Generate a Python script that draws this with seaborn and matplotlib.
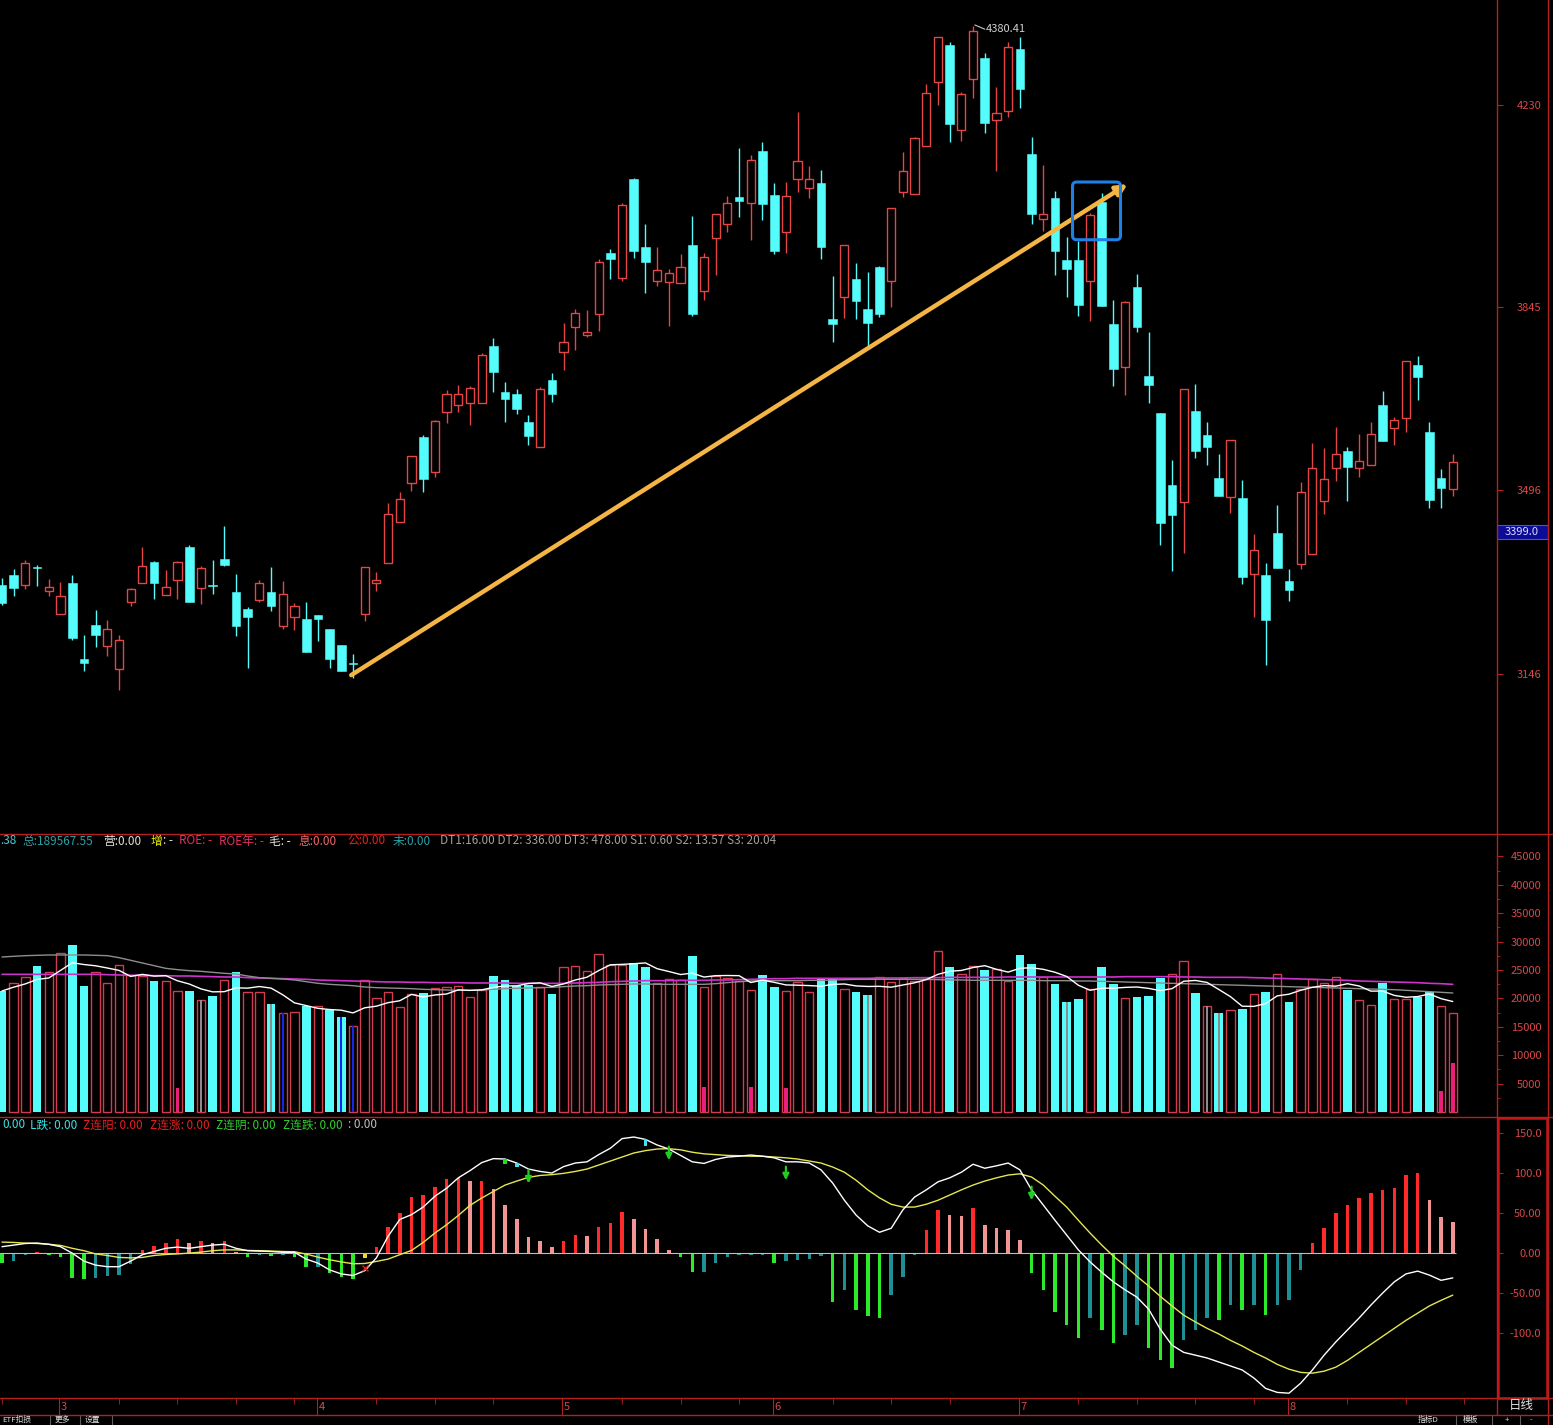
import numpy as np
import pandas as pd
import matplotlib
matplotlib.use("Agg")
import matplotlib.pyplot as plt
import seaborn as sns
from matplotlib.patches import FancyBboxPatch, Rectangle
from matplotlib.lines import Line2D

sns.set_theme(style="dark", rc={"axes.facecolor": "black", "figure.facecolor": "black",
                                "axes.grid": False})
plt.rcParams["font.family"] = ["Noto Sans CJK SC", "DejaVu Sans"]
plt.rcParams["axes.unicode_minus"] = False

# ---------------- data ----------------
opens = [3315, 3334, 3315, 3349, 3304, 3260, 3319, 3174, 3239, 3199,
         3155, 3283, 3319, 3359, 3296, 3325, 3387, 3309, 3315, 3365,
         3302, 3269, 3286, 3302, 3237, 3254, 3250, 3258, 3231, 3201,
         3166, 3260, 3319, 3357, 3435, 3509, 3597, 3530, 3645, 3658,
         3662, 3662, 3771, 3683, 3679, 3626, 3578, 3706, 3759, 3807,
         3792, 3832, 3948, 3900, 4089, 3959, 3894, 3893, 3891, 3963,
         3875, 3976, 4003, 4055, 4043, 4142, 4058, 3988, 4089, 4072,
         4081, 3822, 3864, 3898, 3841, 3921, 3894, 4064, 4060, 4152,
         4274, 4344, 4182, 4279, 4319, 4201, 4218, 4337, 4137, 4013,
         4053, 3934, 3934, 3894, 4045, 3812, 3730, 3883, 3713, 3643,
         3506, 3473, 3647, 3601, 3519, 3483, 3481, 3336, 3334, 3414,
         3323, 3355, 3374, 3475, 3538, 3570, 3538, 3544, 3658, 3614,
         3633, 3734, 3607, 3519, 3498]
highs = [3328, 3345, 3363, 3353, 3326, 3321, 3334, 3220, 3267, 3248,
         3220, 3309, 3387, 3361, 3344, 3361, 3391, 3351, 3363, 3427,
         3336, 3273, 3325, 3349, 3323, 3281, 3283, 3258, 3231, 3201,
         3183, 3349, 3340, 3471, 3492, 3561, 3601, 3629, 3687, 3696,
         3694, 3757, 3786, 3702, 3689, 3639, 3692, 3719, 3814, 3841,
         3839, 3936, 3955, 4043, 4091, 4003, 3959, 3917, 3946, 4018,
         3948, 4022, 4056, 4148, 4135, 4159, 4081, 4083, 4217, 4114,
         4106, 3904, 3963, 3929, 3912, 3923, 4034, 4140, 4169, 4270,
         4360, 4350, 4255, 4380.41, 4329, 4264, 4350, 4360, 4169, 4116,
         4066, 3978, 3971, 4024, 4062, 3858, 3856, 3908, 3797, 3643,
         3553, 3689, 3698, 3626, 3565, 3591, 3515, 3412, 3357, 3467,
         3345, 3511, 3586, 3576, 3616, 3578, 3603, 3626, 3685, 3635,
         3742, 3751, 3626, 3536, 3565]
lows = [3277, 3294, 3307, 3313, 3294, 3260, 3210, 3151, 3197, 3180,
        3115, 3275, 3319, 3288, 3296, 3288, 3283, 3279, 3298, 3351,
        3218, 3157, 3283, 3265, 3231, 3229, 3187, 3208, 3157, 3151,
        3138, 3246, 3304, 3357, 3435, 3494, 3492, 3521, 3624, 3645,
        3620, 3662, 3683, 3626, 3641, 3582, 3578, 3664, 3725, 3763,
        3788, 3799, 3898, 3894, 3938, 3872, 3885, 3809, 3891, 3828,
        3858, 3906, 3988, 4016, 3973, 4011, 3946, 3948, 4064, 4053,
        3936, 3778, 3824, 3822, 3767, 3826, 3845, 4055, 4060, 4152,
        4230, 4159, 4161, 4243, 4177, 4104, 4207, 4224, 4003, 3990,
        3906, 3864, 3828, 3818, 3847, 3694, 3677, 3797, 3662, 3391,
        3342, 3376, 3557, 3544, 3485, 3452, 3317, 3254, 3162, 3347,
        3284, 3345, 3374, 3450, 3513, 3475, 3521, 3544, 3589, 3582,
        3607, 3668, 3462, 3462, 3485]
closes = [3281, 3309, 3357, 3347, 3311, 3294, 3214, 3166, 3220, 3231,
          3210, 3307, 3351, 3319, 3311, 3359, 3283, 3347, 3313, 3353,
          3237, 3254, 3319, 3275, 3298, 3275, 3187, 3250, 3174, 3151,
          3164, 3349, 3325, 3450, 3479, 3561, 3517, 3628, 3679, 3679,
          3690, 3753, 3721, 3670, 3650, 3599, 3689, 3679, 3778, 3833,
          3797, 3931, 3936, 4039, 3952, 3931, 3915, 3910, 3921, 3832,
          3940, 4022, 4043, 4047, 4125, 4041, 3952, 4056, 4123, 4089,
          3959, 3812, 3963, 3856, 3814, 3832, 4034, 4104, 4167, 4253,
          4360, 4194, 4251, 4371, 4196, 4215, 4340, 4260, 4022, 4022,
          3952, 3917, 3849, 4020, 3847, 3727, 3854, 3807, 3696, 3433,
          3448, 3689, 3570, 3578, 3485, 3591, 3330, 3382, 3248, 3347,
          3305, 3492, 3538, 3517, 3565, 3540, 3551, 3603, 3589, 3630,
          3742, 3711, 3477, 3500, 3549]

vols = [21296, 22645, 23701, 25696, 24581, 27925, 29392, 22176, 24581, 22645,
        25813, 24112, 23936, 23056, 23056, 21296, 21296, 19653, 20416, 23232,
        24640, 21061, 21061, 19007, 17365, 17541, 18656, 18656, 17951, 16778,
        15136, 23173, 20064, 21061, 18480, 20709, 20944, 21765, 21941, 22117,
        20240, 21413, 23936, 23232, 22176, 22352, 21941, 20768, 25461, 25637,
        24816, 27749, 25872, 25813, 26224, 25520, 22645, 23408, 23173, 27456,
        22059, 23877, 23525, 23056, 21413, 24112, 22000, 21237, 22821, 21061,
        23584, 23584, 21589, 21120, 20592, 23701, 22821, 23525, 23056, 23408,
        28336, 25520, 24229, 25637, 25050, 25109, 23056, 27632, 26048, 23701,
        22528, 19360, 19888, 21647, 25520, 22528, 20064, 20240, 20416, 23584,
        24229, 26576, 20944, 18656, 17424, 17892, 18186, 20768, 21120, 24229,
        19360, 21647, 23349, 22645, 23701, 21530, 19653, 18832, 22704, 19888,
        19888, 20240, 21120, 18597, 17365]
vol_side = list("crrcrrccrr" "rrrcrrcrcr" "crrcrrcrcc" "rrrrrrcrrr" "rrccccrcrr"
                "rrrrccrrrc" "rrrrrccrrr" "ccrccrrrrr" "rcrrcrrccr" "cccrccrccc"
                "rrcrcrcrcr" "crrrrcrrcr" "rccrr")
vol_ma_mid = [27280, 27397, 27514, 27573, 27632, 27632, 27632, 27632, 27573, 27514,
              27162, 26693, 26224, 25754, 25285, 25050, 24874, 24757, 24581, 24405,
              24288, 23936, 23642, 23525, 23408, 23232, 22938, 22645, 22469, 22352,
              22234, 22000, 21882, 21824, 21765, 21706, 21589, 21530, 21472, 21413,
              21413, 21472, 21589, 21706, 21765, 21824, 21882, 21941, 22059, 22176,
              22234, 22352, 22410, 22469, 22528, 22528, 22469, 22469, 22469, 22469,
              22469, 22586, 22762, 22938, 23056, 23114, 23114, 23114, 23114, 23173,
              23173, 23232, 23290, 23349, 23349, 23349, 23349, 23349, 23349, 23349,
              23290, 23232, 23232, 23173, 23173, 23173, 23173, 23173, 23173, 23114,
              23114, 23114, 23056, 23056, 22997, 22938, 22880, 22821, 22762, 22704,
              22645, 22586, 22528, 22469, 22410, 22352, 22293, 22234, 22176, 22117,
              22059, 22000, 21941, 21882, 21824, 21765, 21706, 21647, 21589, 21530,
              21413, 21296, 21178, 21061, 20944]
vol_ma_long = [24229, 24229, 24229, 24229, 24229, 24229, 24229, 24229, 24229, 24170,
               24112, 24053, 24053, 23994, 23994, 23936, 23936, 23877, 23818, 23760,
               23760, 23642, 23584, 23525, 23466, 23408, 23349, 23232, 23173, 23114,
               23056, 22997, 22938, 22880, 22880, 22821, 22821, 22762, 22762, 22762,
               22704, 22704, 22704, 22704, 22645, 22645, 22645, 22645, 22645, 22704,
               22762, 22821, 22938, 22997, 23056, 23114, 23114, 23114, 23173, 23173,
               23173, 23232, 23232, 23290, 23349, 23408, 23466, 23466, 23525, 23525,
               23525, 23525, 23525, 23525, 23525, 23584, 23584, 23584, 23642, 23642,
               23642, 23701, 23701, 23701, 23701, 23701, 23760, 23760, 23760, 23760,
               23760, 23760, 23760, 23760, 23760, 23760, 23818, 23818, 23818, 23818,
               23818, 23760, 23760, 23701, 23701, 23701, 23701, 23642, 23584, 23525,
               23466, 23408, 23349, 23290, 23232, 23173, 23056, 22997, 22938, 22880,
               22821, 22762, 22645, 22586, 22469]
gray_idx = [17, 23, 74, 91, 103, 104]
blue_idx = [24, 29, 30]
mag_idx = [15, 60, 64, 67, 123, 124]
mag_val = [4164, 4340, 4340, 4164, 3696, 8682]

macd_hist = [-12.5, -10.4, -3, 1, -2, -5.4, -31, -32, -31.5, -28,
             -27.5, -14, 4, 9, 12, 18, 12, 15, 12.5, 15,
             1, -5, -2, -4, -2, -5, -17.5, -17, -25, -30,
             -32, -5, 8, 32, 50, 70, 72, 83, 93, 94,
             90, 90.5, 80, 60, 42, 20, 15, 8, 15, 23,
             21, 33, 38, 51, 43, 30, 17, 4, -5, -24,
             -23.5, -12.5, -5, -3, -3, -2, -12, -10, -8, -7,
             -4, -61, -46, -71, -79, -81, -52, -30, -2, 29,
             54, 47, 46, 56, 35, 31, 29, 16, -25, -46,
             -74, -90, -106, -81, -96, -112, -102, -90, -119, -134,
             -144, -109, -96, -81, -84, -65, -71, -65, -77, -65,
             -59, -21, 12, 31, 50, 60, 69, 75, 79, 81,
             97, 100, 66, 45, 39]
macd_dif = [8, 10, 12, 12.5, 11, 8, 0, -10, -15, -17,
            -17, -10, -2, 2, 6, 7.5, 6, 8, 10, 11,
            6, 3, 2.5, 2, 1, 1, -7.5, -12.5, -21, -26,
            -28, -22, -6, 21, 42, 48, 57.5, 71, 81, 94,
            103, 113, 118, 117.5, 112.5, 105, 102, 100, 108, 112.5,
            114, 123, 131, 143, 145, 142, 135, 130, 122, 114,
            112, 117, 120, 121, 122.5, 121, 119, 114, 114, 112.5,
            104, 87.5, 66, 47.5, 34, 26, 31, 54, 70, 79,
            89, 94, 101, 111, 106, 109, 112.5, 104, 79, 60,
            41, 22.5, 4, -11, -24, -36, -46, -55, -70, -95,
            -115, -124, -127.5, -131, -136, -141, -146, -156, -169, -174,
            -175, -162.5, -146, -127.5, -111, -96, -81, -65, -50, -36,
            -26, -22.5, -27.5, -34, -31]
macd_dea = [13.75, 13.3, 12.5, 12, 11, 9.6, 6, 3, -1, -3,
            -5.4, -6, -5.4, -3, -1.7, -1, 0, 1.25, 3, 4,
            4, 3.3, 3, 2.5, 2, 1.7, -1.25, -5, -8.3, -11,
            -13.3, -13, -10.4, -7.5, -2, 3.3, 13.3, 25, 35.4, 47,
            59.6, 68.75, 77, 85, 90, 94.6, 97, 98, 99.6, 102,
            105, 110, 115, 120, 125, 128, 130, 130.4, 129, 126,
            124, 123, 122, 121.7, 121, 121, 120, 119, 117.5, 115,
            112.5, 107.5, 101, 91, 79, 69, 61, 57.5, 57.5, 61,
            66, 72.5, 79, 85, 90, 94, 97.5, 99, 95, 85,
            71, 57.5, 41, 25, 10, -4, -16, -29, -41, -54,
            -66, -77.5, -86, -94, -101, -109, -116, -124, -131, -139,
            -145, -149, -150, -147.5, -142.5, -134, -124, -114, -104, -94,
            -84, -75, -66, -59, -52.5]
arrow_idx = [45, 57, 67, 88]
arrow_tip = [87, 116, 91, 66]
mark_idx = [43, 44, 55, 31]
mark_lo = [111, 107.5, 134, -6]
mark_hi = [117.5, 112.5, 142.5, -1]
mark_col = ["#22DD22", "#40E0F0", "#40E0F0", "#E8D830"]
cross_idx = [31]
cross_val = [-18]

price_ticks = [3146, 3496, 3845, 4230]
vol_ticks = [5000, 10000, 15000, 20000, 25000, 30000, 35000, 40000, 45000]
macd_ticks = [150, 100, 50, 0, -50, -100]
macd_tick_labels = ["150.0", "100.0", "50.00", "0.00", "-50.00", "-100.0"]
month_labels = ["3", "4", "5", "6", "7", "8"]
month_idx = [5, 27, 48, 66, 87, 110]
peak_idx, peak_val = 83, 4380.41
trend_x = [29.85, 96.2]
trend_y = [3143, 4079]
box_x = [91.5, 95.6]
box_y = [3973, 4083]
cursor_price_label = "3399.0"

# ---------------- layout ----------------
W, H = 1553, 1425
fig = plt.figure(figsize=(W / 100, H / 100), dpi=100, facecolor="black")

def px_axes(x0, y0, x1, y1):
    ax = fig.add_axes([x0 / W, 1 - y1 / H, (x1 - x0) / W, (y1 - y0) / H])
    ax.set_facecolor("black")
    for s in ax.spines.values():
        s.set_visible(False)
    ax.grid(False)
    return ax

n = len(opens)
idx = np.arange(n)
XMIN, XMAX = -0.17, 127.78
AXC = "#B42020"
LBC = "#D84848"
UP = "#E44646"
DN = "#54FCFC"
VUP = "#D23C4E"

ax_p = px_axes(0, 0, 1497, 833)
ax_v = px_axes(0, 833, 1497, 1117)
ax_m = px_axes(0, 1117, 1497, 1398)
ax_d = px_axes(0, 1398, 1497, 1415)

# ---------------- candles ----------------
o = np.array(opens, float); c = np.array(closes, float)
h = np.array(highs, float); l = np.array(lows, float)
up = c >= o
blo = np.minimum(o, c); bhi = np.maximum(o, c)
bh = np.maximum(bhi - blo, 1.2)
ax_p.vlines(idx[~up], l[~up], h[~up], color=DN, lw=1.0)
ax_p.vlines(idx[up], bhi[up], h[up], color=UP, lw=1.0)
ax_p.vlines(idx[up], l[up], blo[up], color=UP, lw=1.0)
ax_p.bar(idx[~up], bh[~up], bottom=blo[~up], width=0.74, color=DN, edgecolor=DN, lw=0.4)
ax_p.bar(idx[up], bh[up], bottom=blo[up], width=0.70, facecolor="black", edgecolor=UP, lw=1.0)

ax_p.set_xlim(XMIN, XMAX)
ax_p.set_ylim(2842, 4430)

# trend arrow
ax_p.annotate("", xy=(trend_x[1], trend_y[1]), xytext=(trend_x[0], trend_y[0]),
              arrowprops=dict(arrowstyle="-|>", color="#F5B544", lw=3.2,
                              mutation_scale=16, shrinkA=0, shrinkB=0))
# blue box
ax_p.add_patch(FancyBboxPatch((box_x[0], box_y[0]), box_x[1] - box_x[0], box_y[1] - box_y[0],
                              boxstyle="round,pad=0,rounding_size=0.35", mutation_aspect=22.3,
                              fill=False, ec="#1F7FE8", lw=2.2, zorder=5))
# peak label
ax_p.plot([peak_idx + 0.15, peak_idx + 1.0], [peak_val + 2, peak_val - 6], color="#C8C8C8", lw=0.8)
ax_p.text(peak_idx + 1.05, peak_val - 6, f"{peak_val:.2f}", color="#D0D0D0", fontsize=8,
          va="center", ha="left")

def right_axis(ax, ticks, labels):
    ax.yaxis.tick_right()
    ax.set_yticks(ticks)
    ax.set_yticklabels(labels)
    ax.tick_params(axis="y", which="major", length=4, width=0.8, color=AXC, labelcolor=LBC,
                   labelsize=8, pad=28, right=True, left=False)
    for t in ax.get_yticklabels():
        t.set_horizontalalignment("right")
    ax.set_xticks([])

right_axis(ax_p, price_ticks, [str(t) for t in price_ticks])

# ---------------- volume ----------------
v = np.array(vols, float)
side = np.array(vol_side)
isup = side == "r"
ax_v.bar(idx[~isup], v[~isup], width=0.74, color=DN, lw=0)
ax_v.bar(idx[isup], v[isup], width=0.72, facecolor="black", edgecolor=VUP, lw=1.0)
ax_v.bar(gray_idx, v[gray_idx], width=0.2, color="#8C8C8C", lw=0)
ax_v.bar(blue_idx, v[blue_idx], width=0.2, color="#1428E6", lw=0)
ax_v.bar(mag_idx, mag_val, width=0.3, color="#E8207A", lw=0)
vol_ma5 = pd.Series(vols, dtype=float).rolling(5, min_periods=1).mean()
sns.lineplot(x=idx, y=np.array(vol_ma_long), ax=ax_v, color="#CC33CC", lw=1.2)
sns.lineplot(x=idx, y=np.array(vol_ma_mid), ax=ax_v, color="#8E8E8E", lw=1.0)
sns.lineplot(x=idx, y=vol_ma5.values, ax=ax_v, color="white", lw=1.0)
ax_v.set_xlim(XMIN, XMAX)
ax_v.set_ylim(-880, 49100)
ax_v.set_xlabel(""); ax_v.set_ylabel("")
right_axis(ax_v, vol_ticks, [str(t) for t in vol_ticks])
ax_v.set_yticks([t + 2500 for t in [0] + vol_ticks[:-1]], minor=True)
ax_v.tick_params(axis="y", which="minor", length=2, width=0.6, color=AXC, right=True, left=False)

# ---------------- MACD ----------------
hist = np.array(macd_hist, float)
hcols = []
for k, val in enumerate(hist):
    prev = hist[k - 1] if k > 0 else 0.0
    if val >= 0:
        hcols.append("#FF2A2A" if val >= prev else "#F29494")
    else:
        hcols.append("#2AEA2A" if val < prev else "#1F8F96")
ax_m.hlines(0, XMIN, n - 1 + 0.3, color="#BEBEBE", lw=0.8)
ax_m.bar(idx, hist, width=0.3, color=hcols, lw=0)
for mi, lo, hi, mc in zip(mark_idx, mark_lo, mark_hi, mark_col):
    ax_m.bar(mi, hi - lo, bottom=lo, width=0.32, color=mc, lw=0, zorder=4)
ax_m.scatter(cross_idx, cross_val, marker="x", s=18, color="#E02020", lw=1, zorder=5)
sns.lineplot(x=idx, y=np.array(macd_dea), ax=ax_m, color="#E6E650", lw=1.0)
sns.lineplot(x=idx, y=np.array(macd_dif), ax=ax_m, color="white", lw=1.0)
for ai, at in zip(arrow_idx, arrow_tip):
    ax_m.annotate("", xy=(ai, at), xytext=(ai, at + 17),
                  arrowprops=dict(arrowstyle="-|>", color="#22CC22", lw=1.6,
                                  mutation_scale=9, shrinkA=0, shrinkB=0))
ax_m.set_xlim(XMIN, XMAX)
ax_m.set_ylim(-181, 170)
ax_m.set_xlabel(""); ax_m.set_ylabel("")
right_axis(ax_m, macd_ticks, macd_tick_labels)

# ---------------- date strip ----------------
ax_d.set_xlim(XMIN, XMAX)
ax_d.set_ylim(0, 1)
ax_d.set_xticks([]); ax_d.set_yticks([])
bounds = month_idx + [n + 3]
for k, (mi, lab) in enumerate(zip(month_idx, month_labels)):
    ax_d.vlines(mi - 0.1, 0, 1, color=AXC, lw=0.8)
    ax_d.text(mi + 0.05, 0.45, lab, color=LBC, fontsize=8, va="center", ha="left")
    for t in range(mi + 5, bounds[k + 1] - 1, 5):
        ax_d.vlines(t, 0.65, 1, color=AXC, lw=0.6)
ax_d.vlines(range(0, month_idx[0], 5), 0.65, 1, color=AXC, lw=0.6)

# ---------------- frame lines ----------------
def hline_px(y, x0=0, x1=W, lw=1.0, color=AXC):
    fig.add_artist(Line2D([x0 / W, x1 / W], [1 - y / H, 1 - y / H], color=color, lw=lw))

def vline_px(x, y0=0, y1=H, lw=1.0, color=AXC):
    fig.add_artist(Line2D([x / W, x / W], [1 - y0 / H, 1 - y1 / H], color=color, lw=lw))

hline_px(833.5)
hline_px(1117)
hline_px(1398)
hline_px(1415)
vline_px(1497, 0, 1415)
vline_px(1548, 0, 1425)
fig.add_artist(Rectangle((1498 / W, 1 - 1398 / H), 49 / W, 280 / H, fill=False,
                         ec="#C81414", lw=1.8, transform=fig.transFigure))

# cursor price box
fig.add_artist(Rectangle((1497 / W, 1 - 539 / H), 51 / W, 14 / H, fc="#0C0C96",
                         ec="#3C50FF", lw=0.8, transform=fig.transFigure))
fig.text(1522 / W, 1 - 532 / H, cursor_price_label, color="#DCDCFF", fontsize=8,
         ha="center", va="center")

# ---------------- header texts ----------------
def ftxt(x, y, s, color, size=8.5, ha="left"):
    fig.text(x / W, 1 - y / H, s, color=color, fontsize=size, ha=ha, va="center")

y1 = 841
ftxt(0, y1, ".38", "#50C8D0")
ftxt(22, y1, "总:189567.55", "#2CA0A8")
ftxt(103, y1, "营:0.00", "#E0E0E0")
ftxt(151, y1, "增", "#F0F000")
ftxt(163, y1, ": -", "#E0E0E0")
ftxt(179, y1, "ROE: -", "#E0306A")
ftxt(219, y1, "ROE年: -", "#E0306A")
ftxt(269, y1, "毛: -", "#E0E0E0")
ftxt(298, y1, "息:0.00", "#EC6A6A")
ftxt(347, y1, "公:0.00", "#E82020")
ftxt(393, y1, "未:0.00", "#2CA0A8")
ftxt(440, y1, "DT1:16.00 DT2: 336.00 DT3: 478.00 S1: 0.60 S2: 13.57 S3: 20.04", "#A0A0A0")

y2 = 1125
ftxt(2, y2, "0.00", "#40E0E0")
ftxt(30, y2, "L跌: 0.00", "#40E0E0")
ftxt(83, y2, "Z连阳: 0.00", "#E82020")
ftxt(150, y2, "Z连涨: 0.00", "#E82020")
ftxt(216, y2, "Z连阴: 0.00", "#30D030")
ftxt(283, y2, "Z连跌: 0.00", "#30D030")
ftxt(348, y2, ": 0.00", "#C0C0C0")

ftxt(1509, 1406, "日线", "#E0E0E0", size=9)

# bottom toolbar
for x, s in [(2, "ETF扣损"), (55, "更多"), (85, "设置"), (1418, "指标D"), (1463, "模板"),
             (1505, "+"), (1530, "-")]:
    fig.text(x / W, 1 - 1420.3 / H, s, color="#E0E0E0", fontsize=5.6, ha="left", va="center")
for x in [50, 80, 112, 1456, 1492, 1520]:
    vline_px(x, 1416, 1425, lw=0.8, color="#606060")

fig.savefig("out.png", dpi=100, facecolor="black")
